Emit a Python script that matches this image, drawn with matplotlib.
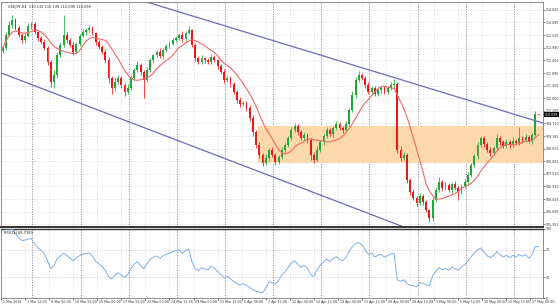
import numpy as np
import pandas as pd
import matplotlib
matplotlib.use("Agg")
import matplotlib.pyplot as plt
from matplotlib.patches import Rectangle

# ---------------- data ----------------
first_open = 112.85
close = [
    112.98, 113.55, 113.98, 114.19, 113.85, 113.55, 113.33, 113.50, 113.93, 114.02,
    113.67, 113.41, 113.24, 112.98, 112.38, 111.51, 111.81, 112.68, 113.11, 113.55,
    113.33, 113.11, 112.81, 113.16, 113.50, 113.67, 113.76, 113.85, 113.63, 113.24,
    113.03, 112.81, 112.46, 111.68, 111.25, 111.51, 111.68, 111.38, 111.08, 111.25,
    111.68, 112.03, 112.25, 111.94, 111.60, 112.03, 112.46, 112.68, 112.81, 112.64,
    112.90, 113.07, 113.16, 113.33, 113.41, 113.55, 113.37, 113.63, 113.76, 113.11,
    112.55, 112.38, 112.55, 112.46, 112.38, 112.59, 112.46, 112.20, 111.94, 111.60,
    111.68, 111.42, 111.08, 110.73, 110.56, 110.60, 110.38, 109.95, 109.34, 108.78,
    108.35, 108.00, 108.22, 108.57, 108.35, 108.05, 108.26, 108.57, 108.78, 109.09,
    109.43, 109.60, 109.34, 109.09, 109.22, 109.00, 108.35, 108.13, 108.57, 108.91,
    109.17, 109.43, 109.26, 109.52, 109.69, 109.52, 109.43, 109.69, 110.30, 110.95,
    111.60, 111.81, 111.68, 111.38, 111.08, 111.25, 110.99, 111.16, 111.25, 111.08,
    111.25, 111.38, 111.42, 108.57, 108.22, 108.35, 107.27, 106.75, 106.49, 106.27,
    106.57, 106.31, 105.97, 105.62, 106.40, 106.83, 107.18, 106.92, 107.05, 106.83,
    107.09, 106.92, 106.75, 107.01, 107.18, 107.48, 107.92, 108.31, 108.78, 109.09,
    108.83, 108.57, 108.44, 108.65, 109.09, 108.91, 108.74, 108.91, 108.78, 108.96,
    108.87, 109.09, 109.00, 109.13, 108.96, 109.22, 110.13, 110.098,
]
upper_wick = [
    0.10, 0.12, 0.15, 0.20, 0.08, 0.10, 0.06, 0.12, 0.15, 0.10,
    0.08, 0.06, 0.10, 0.12, 0.08, 0.10, 0.20, 0.12, 0.15, 0.86,
    0.10, 0.08, 0.12, 0.06, 0.10, 0.15, 0.08, 0.12, 0.10, 0.06,
    0.08, 0.10, 0.12, 0.15, 0.10, 0.20, 0.12, 0.08, 0.10, 0.15,
    0.12, 0.10, 0.18, 0.08, 0.10, 0.12, 0.10, 0.06, 0.08, 0.15,
    0.10, 0.08, 0.12, 0.06, 0.10, 0.08, 0.15, 0.10, 0.17, 0.06,
    0.10, 0.08, 0.12, 0.06, 0.10, 0.12, 0.08, 0.06, 0.10, 0.12,
    0.15, 0.08, 0.10, 0.06, 0.12, 0.10, 0.08, 0.12, 0.15, 0.10,
    0.12, 0.08, 0.15, 0.10, 0.12, 0.08, 0.10, 0.12, 0.08, 0.10,
    0.12, 0.15, 0.08, 0.10, 0.12, 0.08, 0.10, 0.12, 0.15, 0.10,
    0.08, 0.12, 0.10, 0.08, 0.15, 0.10, 0.08, 0.12, 0.10, 0.15,
    0.12, 0.18, 0.10, 0.08, 0.12, 0.10, 0.08, 0.12, 0.10, 0.08,
    0.10, 0.12, 0.22, 0.10, 0.15, 0.12, 0.10, 0.08, 0.12, 0.10,
    0.15, 0.10, 0.08, 0.06, 0.12, 0.15, 0.20, 0.10, 0.12, 0.08,
    0.10, 0.12, 0.08, 0.10, 0.12, 0.15, 0.10, 0.08, 0.12, 0.10,
    0.08, 0.10, 0.12, 0.08, 0.15, 0.10, 0.08, 0.12, 0.10, 0.15,
    0.08, 0.47, 0.10, 0.12, 0.08, 0.10, 0.12, 0.01,
]
lower_wick = [
    0.08, 0.10, 0.06, 0.12, 0.10, 0.08, 0.15, 0.10, 0.06, 0.12,
    0.10, 0.12, 0.08, 0.10, 0.15, 0.20, 0.25, 0.12, 0.10, 0.08,
    0.12, 0.10, 0.15, 0.08, 0.10, 0.06, 0.12, 0.08, 0.10, 0.12,
    0.10, 0.08, 0.12, 0.20, 0.25, 0.15, 0.10, 0.12, 0.20, 0.10,
    0.08, 0.12, 0.10, 0.15, 0.78, 0.10, 0.08, 0.12, 0.10, 0.08,
    0.12, 0.10, 0.08, 0.06, 0.10, 0.08, 0.12, 0.10, 0.06, 0.10,
    0.15, 0.10, 0.08, 0.12, 0.10, 0.08, 0.10, 0.12, 0.10, 0.15,
    0.10, 0.12, 0.08, 0.15, 0.12, 0.10, 0.15, 0.12, 0.18, 0.15,
    0.12, 0.15, 0.10, 0.12, 0.10, 0.15, 0.10, 0.08, 0.12, 0.10,
    0.08, 0.10, 0.12, 0.10, 0.08, 0.12, 0.20, 0.15, 0.10, 0.08,
    0.12, 0.10, 0.08, 0.12, 0.10, 0.08, 0.12, 0.10, 0.08, 0.10,
    0.12, 0.10, 0.08, 0.15, 0.10, 0.12, 0.08, 0.10, 0.12, 0.08,
    0.10, 0.08, 0.12, 0.15, 0.12, 0.10, 0.15, 0.12, 0.10, 0.15,
    0.10, 0.12, 0.10, 0.17, 0.12, 0.10, 0.08, 0.12, 0.10, 0.08,
    0.12, 0.10, 0.35, 0.10, 0.08, 0.12, 0.10, 0.08, 0.12, 0.10,
    0.12, 0.10, 0.15, 0.10, 0.08, 0.12, 0.10, 0.08, 0.12, 0.10,
    0.08, 0.10, 0.12, 0.08, 0.10, 0.12, 0.08, 0.01,
]

x_labels = ["1 Mar 2016", "3 Mar 12:00", "8 Mar 00:00", "10 Mar 12:00", "15 Mar 00:00",
            "17 Mar 12:00", "22 Mar 00:00", "24 Mar 12:00", "29 Mar 00:00", "31 Mar 12:00",
            "5 Apr 00:00", "7 Apr 12:00", "12 Apr 00:00", "14 Apr 12:00", "19 Apr 00:00",
            "21 Apr 12:00", "26 Apr 00:00", "28 Apr 12:00", "3 May 00:00", "5 May 12:00",
            "10 May 00:00", "12 May 12:00", "17 May 00:00"]
y_ticks = [114.625, 114.085, 113.530, 112.990, 112.450, 111.895, 111.355, 110.800,
           110.260, 109.720, 109.165, 108.625, 108.085, 107.530, 106.990, 106.435,
           105.895, 105.355]
rsi_ticks = [0, 30, 70, 100]

title = "USDJPY,H4  110.132 110.139 110.090 110.098"
rsi_title = "RSI(14) 66.7389"
last_price = 110.098

box_top, box_bottom = 109.60, 108.00
upper_line = [(63.3, 114.19), (168.4, 109.73)]
lower_line = [(-0.5, 111.90), (117.7, 105.62)]

# ---------------- figure ----------------
W, H = 560, 308
fig = plt.figure(figsize=(W / 100, H / 100), dpi=100)
fig.patch.set_facecolor("white")

def rect(x0, y0, x1, y1):
    return [x0 / W, 1 - y1 / H, (x1 - x0) / W, (y1 - y0) / H]

ax = fig.add_axes(rect(1, 2, 543, 227))
axr = fig.add_axes(rect(1, 229, 543, 298), sharex=ax)

n = len(close)
idx = np.arange(n)
c = np.array(close)
o = np.concatenate([[first_open], c[:-1]])
hi = np.maximum(o, c) + np.array(upper_wick)
lo = np.minimum(o, c) - np.array(lower_wick)
up = c >= o
green, red = "#1ea83a", "#ee1616"
cols = np.where(up, green, red)

xmin, xmax = -0.5, 168.4
ax.set_xlim(xmin, xmax)
ax.set_ylim(105.23, 114.97)

grid_c = "#cfcfcf"
tick_pos = [7.5 * k - 0.5 for k in range(len(x_labels))]
for yt in y_ticks:
    ax.axhline(yt, color=grid_c, lw=0.5, ls=(0, (1, 1.5)), zorder=0)
for xt in tick_pos:
    for a in (ax, axr):
        a.axvline(xt, color=grid_c, lw=0.5, ls=(0, (1, 1.5)), zorder=0)
for k in range(11):
    xs = 9.3 + 15 * k
    for a in (ax, axr):
        a.axvline(xs, color="#8a8a8a", lw=0.6, ls=(0, (1.5, 1.5)), zorder=0.5)

# orange zone
ax.add_patch(Rectangle((79.5, box_bottom), xmax - 79.5 + 1, box_top - box_bottom,
                       facecolor="#fcd8ab", edgecolor="none", zorder=1))

# channel lines
ax.axline(upper_line[0], upper_line[1], color="#6b6bb8", lw=0.9, zorder=2)
ax.axline(lower_line[0], lower_line[1], color="#6b6bb8", lw=0.9, zorder=2)

# candles
ax.vlines(idx, lo, hi, colors=cols, lw=0.55, zorder=3)
ax.bar(idx, np.maximum(np.abs(c - o), 0.02), bottom=np.minimum(o, c), width=0.58,
       color=cols, lw=0, zorder=4)

# moving average
ma = pd.Series(c).rolling(10, min_periods=1).mean()
ax.plot(idx, ma, color="#f06868", lw=0.8, zorder=5)

# axes styling
for a in (ax, axr):
    for s in a.spines.values():
        s.set_color("#7a7a7a")
        s.set_linewidth(0.6)
    a.yaxis.tick_right()
    a.tick_params(axis="y", labelsize=2.3, length=1.2, width=0.4, pad=0.8,
                  colors="#333333")
    a.set_facecolor("white")
ax.spines["bottom"].set_color("#333333")
ax.spines["bottom"].set_linewidth(1.4)
axr.spines["top"].set_color("#333333")
axr.spines["top"].set_linewidth(1.0)

ax.set_yticks(y_ticks)
ax.set_yticklabels([f"{v:.3f}" for v in y_ticks])
ax.tick_params(axis="x", bottom=False, labelbottom=False)

ax.text(1.003, last_price, f"{last_price:.3f}", transform=ax.get_yaxis_transform(),
        fontsize=2.3, color="white", va="center", ha="left",
        bbox=dict(boxstyle="square,pad=0.2", facecolor="black", edgecolor="none"),
        clip_on=False, zorder=10)
ax.text(0.012, 0.988, title, transform=ax.transAxes, fontsize=2.5, va="top",
        ha="left", color="#222222")

# RSI
s = pd.Series(c)
d = s.diff()
gain = d.clip(lower=0).ewm(alpha=1 / 10, adjust=False).mean()
loss = (-d.clip(upper=0)).ewm(alpha=1 / 10, adjust=False).mean()
rsi = 100 - 100 / (1 + gain / loss)
axr.plot(idx[1:], rsi[1:], color="#7ab0e6", lw=0.7, zorder=3)
axr.set_ylim(0, 100)
axr.set_yticks(rsi_ticks)
axr.set_yticklabels([str(v) for v in rsi_ticks])
for lv in (30, 70):
    axr.axhline(lv, color="#bdbdbd", lw=0.5, ls=(0, (1, 1.5)), zorder=0)
axr.text(0.006, 0.97, rsi_title, transform=axr.transAxes, fontsize=2.5, va="top",
         ha="left", color="#222222")

axr.set_xticks(tick_pos)
axr.tick_params(axis="x", length=1.2, width=0.4, labelbottom=False)
for xt, lab in zip(tick_pos, x_labels):
    axr.text(xt + 0.6, -0.03, lab, transform=axr.get_xaxis_transform(), fontsize=2.3,
             va="top", ha="left", color="#333333", clip_on=False)

fig.savefig("out.png", dpi=100, facecolor="white")
